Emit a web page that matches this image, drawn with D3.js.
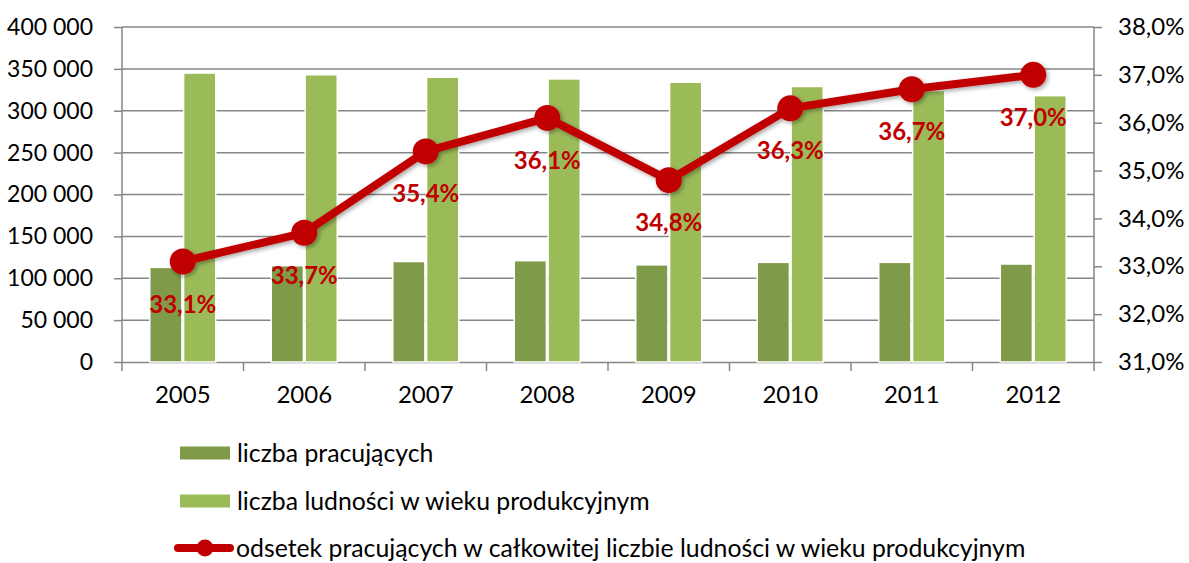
<!DOCTYPE html>
<html>
<head>
<meta charset="utf-8">
<script src="https://cdn.jsdelivr.net/npm/d3@7"></script>
<style>
  body { margin: 0; background: #fff; }
  svg text { font-family: Lato, "Open Sans", sans-serif; fill: #000; }
</style>
</head>
<body>
<svg id="chart" width="1189" height="563"></svg>
<script>
const years = ['2005', '2006', '2007', '2008', '2009', '2010', '2011', '2012']
const employed = [113000, 115000, 120000, 121000, 116000, 119000, 119000, 117000]
const workingAge = [345000, 343000, 340000, 338000, 334000, 329000, 324000, 318000]
const share = [33.1, 33.7, 35.4, 36.1, 34.8, 36.3, 36.7, 37.0]
const leftTicks = [0, 50000, 100000, 150000, 200000, 250000, 300000, 350000, 400000]
const rightTicks = [31, 32, 33, 34, 35, 36, 37, 38]
const seriesNames = [
  'liczba pracujących',
  'liczba ludności w wieku produkcyjnym',
  'odsetek pracujących w całkowitej liczbie ludności w wieku produkcyjnym'
]

const X0 = 122, X1 = 1094, Y0 = 362, Y1 = 27
const DARK = '#7f9b4a', LIGHT = '#9bbb59', RED = '#c00000', GRID = '#868686'

const svg = d3.select('#chart')

const defs = svg.append('defs')
defs.append('filter').attr('id', 'shadow')
  .attr('x', '-20%').attr('y', '-20%').attr('width', '140%').attr('height', '140%')
  .append('feDropShadow')
  .attr('dx', 2).attr('dy', 2).attr('stdDeviation', 2)
  .attr('flood-color', '#000').attr('flood-opacity', 0.35)

const x = d3.scaleBand().domain(years).range([X0, X1]).paddingInner(0.457).paddingOuter(0.2285)
const xInner = d3.scaleBand().domain([0, 1]).range([0, x.bandwidth()]).paddingInner(0.05)
const yL = d3.scaleLinear().domain([0, 400000]).range([Y0, Y1])
const yR = d3.scaleLinear().domain([31, 38]).range([Y0, Y1])

const fmtNum = d => d3.format(',')(d).replace(/,/g, ' ')
const fmtPct = d => d3.format('.1f')(d).replace('.', ',') + '%'

// gridlines
svg.append('g').selectAll('line').data(leftTicks.slice(1)).join('line')
  .attr('x1', X0).attr('x2', X1)
  .attr('y1', d => yL(d)).attr('y2', d => yL(d))
  .attr('stroke', GRID).attr('stroke-width', 1.5)

// left axis
const gl = svg.append('g').attr('transform', `translate(${X0},0)`)
  .call(d3.axisLeft(yL).tickValues(leftTicks).tickFormat(fmtNum).tickSize(8).tickPadding(21))
// right axis
const gr = svg.append('g').attr('transform', `translate(${X1},0)`)
  .call(d3.axisRight(yR).tickValues(rightTicks).tickFormat(fmtPct).tickSize(8).tickPadding(16))
// bottom axis
const gx = svg.append('g').attr('transform', `translate(0,${Y0})`)
  .call(d3.axisBottom(x).tickSize(0).tickPadding(24))

;[gl, gr, gx].forEach(g => {
  g.selectAll('path, line').attr('stroke', GRID).attr('stroke-width', 1.5)
  g.selectAll('text').style('font-size', '24px').attr('fill', '#000')
})
gl.selectAll('text').style('font-size', '23px')
gl.select('.domain').attr('d', `M0,${Y1}V${Y0}`)
gr.select('.domain').attr('d', `M0,${Y1}V${Y0}`)

// category separators on the x axis
svg.append('g').selectAll('line').data(d3.range(years.length + 1)).join('line')
  .attr('x1', i => X0 + i * x.step()).attr('x2', i => X0 + i * x.step())
  .attr('y1', Y0).attr('y2', Y0 + 9)
  .attr('stroke', GRID).attr('stroke-width', 1.5)

// bars
const bars = svg.append('g')
bars.selectAll('rect.emp').data(years).join('rect').attr('class', 'emp')
  .attr('x', d => x(d) + xInner(0))
  .attr('width', xInner.bandwidth())
  .attr('y', (d, i) => yL(employed[i]))
  .attr('height', (d, i) => Y0 - yL(employed[i]))
  .attr('fill', DARK).attr('stroke', '#fff').attr('stroke-width', 1.5)
bars.selectAll('rect.pop').data(years).join('rect').attr('class', 'pop')
  .attr('x', d => x(d) + xInner(1))
  .attr('width', xInner.bandwidth())
  .attr('y', (d, i) => yL(workingAge[i]))
  .attr('height', (d, i) => Y0 - yL(workingAge[i]))
  .attr('fill', LIGHT).attr('stroke', '#fff').attr('stroke-width', 1.5)

// line
const cx = d => x(d) + x.bandwidth() / 2
const line = d3.line().x((d, i) => cx(years[i])).y(d => yR(d))
const lg = svg.append('g').attr('filter', 'url(#shadow)')
lg.append('path').datum(share).attr('d', line)
  .attr('fill', 'none').attr('stroke', RED).attr('stroke-width', 8)
  .attr('stroke-linejoin', 'round')
lg.selectAll('circle').data(share).join('circle')
  .attr('cx', (d, i) => cx(years[i])).attr('cy', d => yR(d))
  .attr('r', 13).attr('fill', RED)

svg.append('g').selectAll('text').data(share).join('text')
  .attr('x', (d, i) => cx(years[i]))
  .attr('y', d => yR(d) + 51)
  .attr('text-anchor', 'middle')
  .style('font-size', '24px').style('font-weight', 'bold')
  .style('fill', RED)
  .text(fmtPct)

// legend
const leg = svg.append('g')
const rows = [453, 501, 548]
leg.append('rect').attr('x', 180).attr('y', rows[0] - 6.5).attr('width', 50).attr('height', 13).attr('fill', DARK)
leg.append('rect').attr('x', 180).attr('y', rows[1] - 6.5).attr('width', 50).attr('height', 13).attr('fill', LIGHT)
leg.append('line').attr('x1', 178).attr('x2', 230).attr('y1', rows[2]).attr('y2', rows[2])
  .attr('stroke', RED).attr('stroke-width', 8).attr('stroke-linecap', 'round')
leg.append('circle').attr('cx', 205).attr('cy', rows[2]).attr('r', 8.5).attr('fill', RED)
leg.selectAll('text').data(seriesNames).join('text')
  .attr('x', (d, i) => i === 2 ? 236 : 237)
  .attr('y', (d, i) => rows[i])
  .attr('dy', '0.35em')
  .style('font-size', '24.8px')
  .text(d => d)
</script>
</body>
</html>
